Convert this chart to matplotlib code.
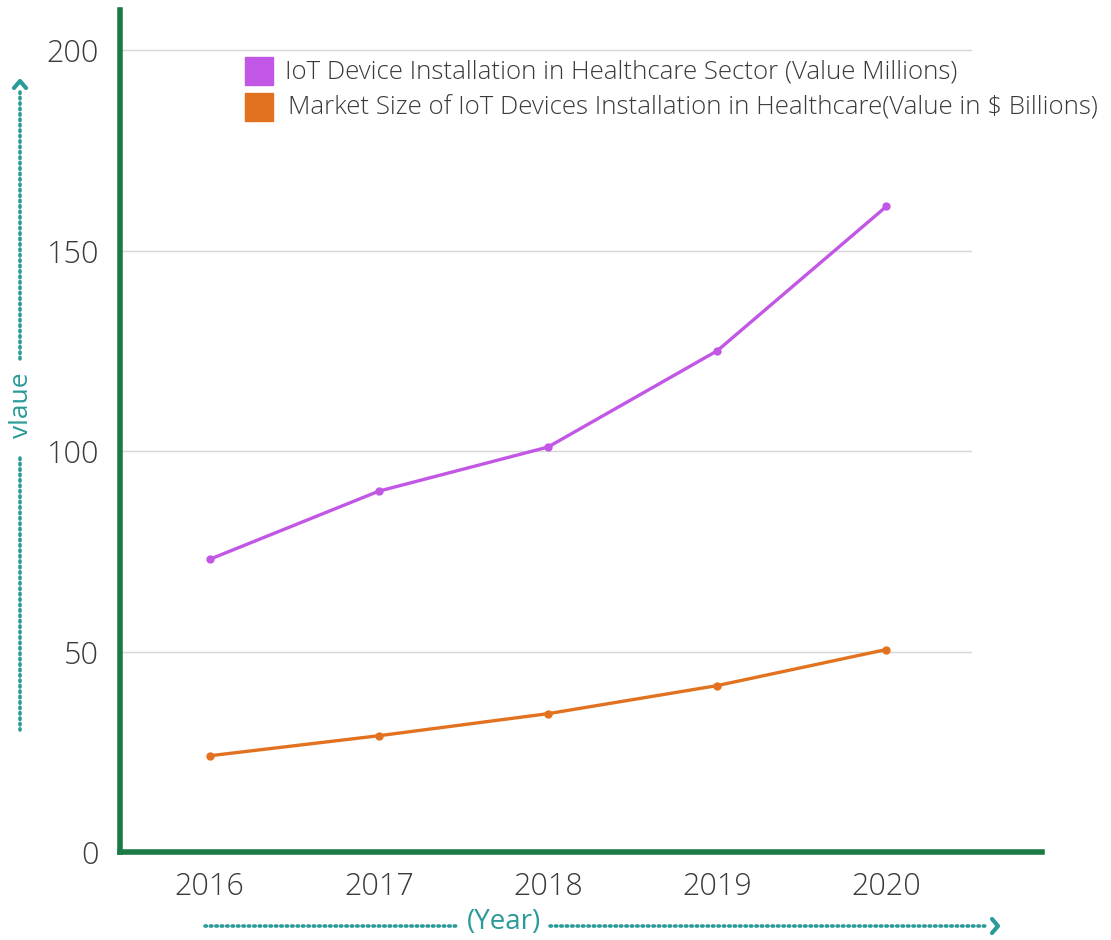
import matplotlib
matplotlib.use("Agg")
import matplotlib.pyplot as plt
from matplotlib.lines import Line2D
from matplotlib.patches import Rectangle

plt.rcParams['font.family'] = ['Open Sans', 'DejaVu Sans']

years = [2016, 2017, 2018, 2019, 2020]
devices_millions = [73, 90, 101, 125, 161]
market_billions = [24, 29, 34.5, 41.5, 50.5]
y_ticks = [0, 50, 100, 150, 200]
series_names = [
    "IoT Device Installation in Healthcare Sector (Value Millions)",
    "Market Size of IoT Devices Installation in Healthcare(Value in $ Billions)",
]

W, H = 1111, 940
fig = plt.figure(figsize=(W / 100, H / 100), dpi=100)
fig.patch.set_facecolor("white")

ax = fig.add_axes([120 / W, (H - 852) / H, (1042 - 120) / W, (852 - 10) / H])
ax.set_xlim(2015.47, 2020.92)
ax.set_ylim(0, 210)

green = "#1b7a45"
teal = "#2a9b98"
purple = "#c257e6"
orange = "#e2721f"
text_col = "#3a3a3a"

for y in y_ticks[1:]:
    ax.plot([2015.47, 2020.5], [y, y], color="#d6d6d6", lw=1.0, zorder=1)

ax.plot(years, devices_millions, color=purple, lw=2.4, marker="o", ms=5, zorder=3)
ax.plot(years, market_billions, color=orange, lw=2.4, marker="o", ms=5, zorder=3)

for s in ["top", "right"]:
    ax.spines[s].set_visible(False)
for s in ["left", "bottom"]:
    ax.spines[s].set_color(green)
    ax.spines[s].set_linewidth(4)

ax.set_xticks(years)
ax.set_xticklabels([str(y) for y in years])
ax.set_yticks(y_ticks)
ax.tick_params(length=0, labelsize=22, labelcolor=text_col)
ax.tick_params(axis="x", pad=14)
ax.tick_params(axis="y", pad=15)
for lab in ax.get_xticklabels() + ax.get_yticklabels():
    lab.set_fontweight("light")

# legend drawn as coloured squares with labels
for i, (name, col) in enumerate(zip(series_names, [purple, orange])):
    y0 = 57 + i * 36
    fig.patches.append(Rectangle((245 / W, 1 - (y0 + 28) / H), 28 / W, 28 / H,
                                 transform=fig.transFigure, color=col, figure=fig))
    fig.text(285 / W + i * 3 / W, 1 - (y0 + 15) / H, name, fontsize=18.6,
             color=text_col, va="center", ha="left", fontweight="light")

# y-axis label with dotted arrow
fig.text(22 / W, 1 - 405 / H, "vlaue", rotation=90, color=teal, fontsize=19,
         ha="center", va="center")
dot = dict(color=teal, lw=2.6, linestyle=(0, (0.4, 1.1)), dash_capstyle="round")
fig.lines.append(Line2D([20 / W, 20 / W], [1 - 92 / H, 1 - 362 / H],
                        transform=fig.transFigure, **dot))
fig.lines.append(Line2D([20 / W, 20 / W], [1 - 458 / H, 1 - 730 / H],
                        transform=fig.transFigure, **dot))
fig.lines.append(Line2D([14 / W, 20 / W, 26 / W], [1 - 88 / H, 1 - 81 / H, 1 - 88 / H],
                        transform=fig.transFigure, color=teal, lw=3,
                        solid_capstyle="round", solid_joinstyle="round"))

# x-axis label with dotted arrow
fig.text(504 / W, 1 - 922 / H, "(Year)", color=teal, fontsize=20,
         ha="center", va="center")
fig.lines.append(Line2D([205 / W, 458 / W], [1 - 926 / H, 1 - 926 / H],
                        transform=fig.transFigure, **dot))
fig.lines.append(Line2D([550 / W, 988 / W], [1 - 926 / H, 1 - 926 / H],
                        transform=fig.transFigure, **dot))
fig.lines.append(Line2D([992 / W, 998 / W, 992 / W], [1 - 919 / H, 1 - 926 / H, 1 - 933 / H],
                        transform=fig.transFigure, color=teal, lw=3,
                        solid_capstyle="round", solid_joinstyle="round"))

fig.savefig("out.png", dpi=100)
